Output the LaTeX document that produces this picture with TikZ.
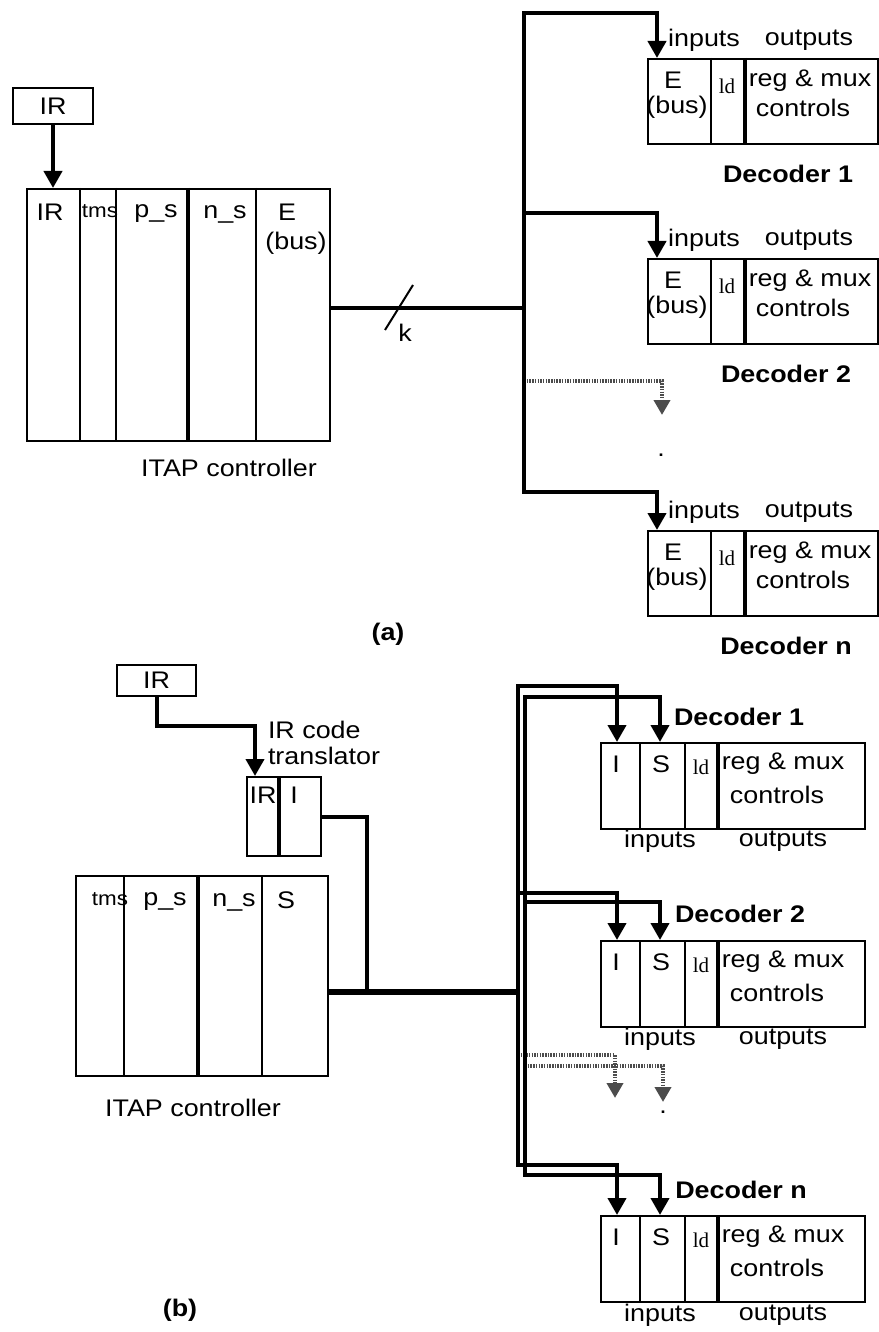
\documentclass[tikz,border=0pt]{standalone}
\usepackage{fontspec}
\setmainfont[FakeStretch=1.12]{Liberation Sans}
\newfontfamily\ldfont{Liberation Serif}
\usetikzlibrary{arrows.meta}

\begin{document}
\begin{tikzpicture}[x=1pt, y=-1pt, line width=2pt,
    every node/.style={inner sep=0pt, font=\fontsize{24}{26}\selectfont},
    box/.style={draw, line width=2pt, anchor=north west},
    bus/.style={line width=4pt},
    arr/.style={-{Triangle[width=18pt,length=17pt]}},
    hatch/.style={line width=4.5pt, black!70, dash pattern=on 1.5pt off 1.2pt,
      -{Triangle[width=16pt,length=15pt]}},
    tms/.style={font=\fontsize{20}{22}\selectfont},
    ld/.style={font=\ldfont\fontsize{21}{22}\selectfont},
    dec/.style={font=\bfseries\fontsize{24}{26}\selectfont}]
  \useasboundingbox (0,0) rectangle (878,1332);

  % (a) controller side
  \node[box, minimum width=80pt, minimum height=36pt] (irA) at (12,87) {IR};
  \node[box, minimum width=303pt, minimum height=252pt] (ctlA) at (26,188) {};
  \draw ([xshift=54pt]ctlA.north west) -- ([xshift=54pt]ctlA.south west);
  \draw ([xshift=90pt]ctlA.north west) -- ([xshift=90pt]ctlA.south west);
  \draw[bus] ([xshift=162pt]ctlA.north west) -- ([xshift=162pt]ctlA.south west);
  \draw ([xshift=230pt]ctlA.north west) -- ([xshift=230pt]ctlA.south west);
  \node (irfA) at (50,212) {IR};
  \node[tms] (tmsA) at (100,211) {tms};
  \node (psA) at (156,214) {p\_s};
  \node (nsA) at (225,214) {n\_s};
  \node (eA) at (287,212) {E};
  \node (ebA) at (296,243) {(bus)};
  \node (ctlAtxt) at (229,468) {ITAP controller};
  \draw[bus, arr] (irA.south) -- (irA.south |- ctlA.north);

  % (a) bus
  \coordinate (tapA) at (524,308);
  \draw[bus] (ctlA.east |- tapA) -- (tapA);
  \draw (385,330) -- (413,285);
  \node (kA) at (405,333) {k};

  % (a) decoders
  \node[box, minimum width=230pt, minimum height=85pt] (decA1) at (647,58) {};
  \draw ([xshift=64pt]decA1.north west) -- ([xshift=64pt]decA1.south west);
  \draw[bus] ([xshift=98pt]decA1.north west) -- ([xshift=98pt]decA1.south west);
  \node (inA1) at (704,40) {inputs};
  \node (outA1) at (809,40) {outputs};
  \node (eA1) at (673,80) {E};
  \node (ebA1) at (677,107) {(bus)};
  \node[ld] (ldA1) at (727,86) {ld};
  \node (regA1) at (810,81) {reg \& mux};
  \node (conA1) at (803,108) {controls};
  \node[dec] (nameA1) at (788,174) {Decoder 1};
  \draw[bus, arr] (tapA) |- ([xshift=10pt, yshift=45pt]decA1.north west)
    -- ([xshift=10pt]decA1.north west);

  \node[box, minimum width=230pt, minimum height=85pt] (decA2) at (647,258) {};
  \draw ([xshift=64pt]decA2.north west) -- ([xshift=64pt]decA2.south west);
  \draw[bus] ([xshift=98pt]decA2.north west) -- ([xshift=98pt]decA2.south west);
  \node (inA2) at (704,240) {inputs};
  \node (outA2) at (809,240) {outputs};
  \node (eA2) at (673,280) {E};
  \node (ebA2) at (677,307) {(bus)};
  \node[ld] (ldA2) at (727,286) {ld};
  \node (regA2) at (810,281) {reg \& mux};
  \node (conA2) at (803,308) {controls};
  \node[dec] (nameA2) at (786,374) {Decoder 2};
  \draw[bus, arr] (tapA) |- ([xshift=10pt, yshift=45pt]decA2.north west)
    -- ([xshift=10pt]decA2.north west);

  \coordinate (dropA) at (662,415);
  \draw[hatch] ([yshift=34pt]dropA -| tapA) -- ([yshift=34pt]dropA) -- (dropA);
  \node (dotA) at (661,455) {.};

  \node[box, minimum width=230pt, minimum height=85pt] (decAn) at (647,530) {};
  \draw ([xshift=64pt]decAn.north west) -- ([xshift=64pt]decAn.south west);
  \draw[bus] ([xshift=98pt]decAn.north west) -- ([xshift=98pt]decAn.south west);
  \node (inAn) at (704,512) {inputs};
  \node (outAn) at (809,512) {outputs};
  \node (eAn) at (673,552) {E};
  \node (ebAn) at (677,579) {(bus)};
  \node[ld] (ldAn) at (727,558) {ld};
  \node (regAn) at (810,553) {reg \& mux};
  \node (conAn) at (803,580) {controls};
  \node[dec] (nameAn) at (786,646) {Decoder n};
  \draw[bus, arr] (tapA) |- ([xshift=10pt, yshift=38pt]decAn.north west)
    -- ([xshift=10pt]decAn.north west);

  \node[dec] (capA) at (388,634) {(a)};

  % (b) controller side
  \node[box, minimum width=79pt, minimum height=31pt] (irB) at (116,664) {IR};
  \node[align=left, anchor=north west] (trBtxt) at (267,720) {IR code\\translator};
  \node[box, minimum width=74pt, minimum height=79pt] (trB) at (246,776) {};
  \draw[bus] ([xshift=33pt]trB.north west) -- ([xshift=33pt]trB.south west);
  \node (irfB) at (263,795) {IR};
  \node (iB) at (294,795) {I};
  \draw[bus, arr] (irB.south) -- ++(0,29) -| ([xshift=9pt]trB.north west);

  \node[box, minimum width=252pt, minimum height=200pt] (ctlB) at (75,875) {};
  \draw ([xshift=49pt]ctlB.north west) -- ([xshift=49pt]ctlB.south west);
  \draw[bus] ([xshift=123pt]ctlB.north west) -- ([xshift=123pt]ctlB.south west);
  \draw ([xshift=187pt]ctlB.north west) -- ([xshift=187pt]ctlB.south west);
  \node[tms] (tmsB) at (110,899) {tms};
  \node (psB) at (165,902) {p\_s};
  \node (nsB) at (234,902) {n\_s};
  \node (sB) at (286,900) {S};
  \node (ctlBtxt) at (193,1108) {ITAP controller};

  % (b) buses
  \coordinate (mergeB) at (367,992);
  \coordinate (joinB) at (518,992);
  \coordinate (innB) at (525,992);
  \coordinate (dropBi) at (615,1098);
  \coordinate (dropBs) at (663,1102);
  \draw[hatch] ([yshift=43pt]dropBi -| joinB) -- ([yshift=43pt]dropBi) -- (dropBi);
  \draw[hatch] ([yshift=36pt]dropBs -| innB) -- ([yshift=36pt]dropBs) -- (dropBs);
  \draw[bus] (trB.east) -| (mergeB);
  \draw[bus, line width=5.5pt] (ctlB.east |- mergeB) -- (joinB);
  \node (dotB) at (663,1112) {.};

  % (b) decoders
  \node[box, minimum width=264pt, minimum height=86pt] (decB1) at (600,742) {};
  \draw ([xshift=40pt]decB1.north west) -- ([xshift=40pt]decB1.south west);
  \draw ([xshift=85pt]decB1.north west) -- ([xshift=85pt]decB1.south west);
  \draw[bus] ([xshift=118pt]decB1.north west) -- ([xshift=118pt]decB1.south west);
  \node (iB1) at (616,764) {I};
  \node (sB1) at (661,764) {S};
  \node[ld] (ldB1) at (701,767) {ld};
  \node (regB1) at (783,764) {reg \& mux};
  \node (conB1) at (777,795) {controls};
  \node (inB1) at (660,841) {inputs};
  \node (outB1) at (783,841) {outputs};
  \node[dec] (nameB1) at (739,717) {Decoder 1};
  \draw[bus, arr] (joinB) |- ([xshift=17pt, yshift=56pt]decB1.north west)
    -- ([xshift=17pt]decB1.north west);
  \draw[bus, arr] (innB) |- ([xshift=60pt, yshift=45pt]decB1.north west)
    -- ([xshift=60pt]decB1.north west);

  \node[box, minimum width=264pt, minimum height=86pt] (decB2) at (600,940) {};
  \draw ([xshift=40pt]decB2.north west) -- ([xshift=40pt]decB2.south west);
  \draw ([xshift=85pt]decB2.north west) -- ([xshift=85pt]decB2.south west);
  \draw[bus] ([xshift=118pt]decB2.north west) -- ([xshift=118pt]decB2.south west);
  \node (iB2) at (616,962) {I};
  \node (sB2) at (661,962) {S};
  \node[ld] (ldB2) at (701,965) {ld};
  \node (regB2) at (783,962) {reg \& mux};
  \node (conB2) at (777,993) {controls};
  \node (inB2) at (660,1039) {inputs};
  \node (outB2) at (783,1039) {outputs};
  \node[dec] (nameB2) at (740,914) {Decoder 2};
  \draw[bus, arr] (joinB) |- ([xshift=17pt, yshift=47pt]decB2.north west)
    -- ([xshift=17pt]decB2.north west);
  \draw[bus, arr] (innB) |- ([xshift=60pt, yshift=38pt]decB2.north west)
    -- ([xshift=60pt]decB2.north west);

  \node[box, minimum width=264pt, minimum height=86pt] (decBn) at (600,1215) {};
  \draw ([xshift=40pt]decBn.north west) -- ([xshift=40pt]decBn.south west);
  \draw ([xshift=85pt]decBn.north west) -- ([xshift=85pt]decBn.south west);
  \draw[bus] ([xshift=118pt]decBn.north west) -- ([xshift=118pt]decBn.south west);
  \node (iBn) at (616,1237) {I};
  \node (sBn) at (661,1237) {S};
  \node[ld] (ldBn) at (701,1240) {ld};
  \node (regBn) at (783,1237) {reg \& mux};
  \node (conBn) at (777,1268) {controls};
  \node (inBn) at (660,1315) {inputs};
  \node (outBn) at (783,1315) {outputs};
  \node[dec] (nameBn) at (741,1190) {Decoder n};
  \draw[bus, arr] (joinB) |- ([xshift=17pt, yshift=50pt]decBn.north west)
    -- ([xshift=17pt]decBn.north west);
  \draw[bus, arr] (innB) |- ([xshift=60pt, yshift=40pt]decBn.north west)
    -- ([xshift=60pt]decBn.north west);

  \node[dec] (capB) at (180,1310) {(b)};
\end{tikzpicture}
\end{document}
